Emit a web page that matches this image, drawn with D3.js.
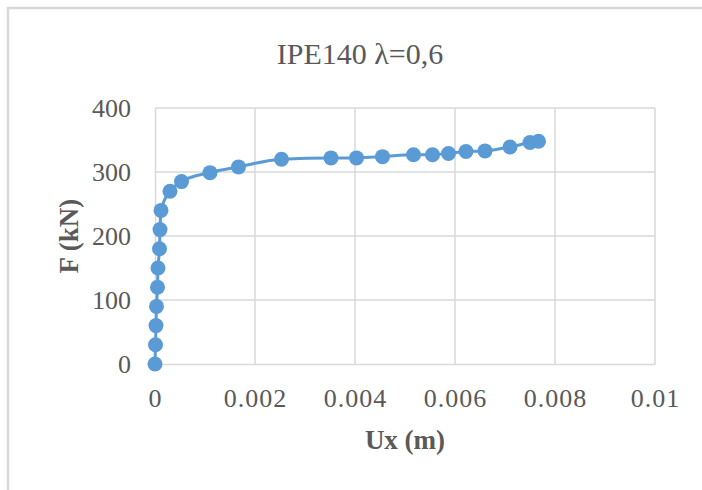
<!DOCTYPE html>
<html><head><meta charset="utf-8">
<script src="https://cdn.jsdelivr.net/npm/d3@7"></script>
<style>html,body{margin:0;padding:0;background:#fff;}</style>
</head><body>
<svg id="c" width="702" height="490"></svg>
<script>
const ux = [0, 0.00001, 0.00002, 0.00003, 0.00005, 0.00006, 0.00009, 0.0001, 0.00012, 0.0003, 0.00053, 0.0011, 0.00167, 0.00253, 0.00352, 0.00403, 0.00455, 0.00517, 0.00555, 0.00587, 0.00622, 0.0066, 0.0071, 0.0075, 0.00767];
const force = [0, 30, 60, 90, 120, 150, 180, 210, 240, 270, 285, 299, 308, 320, 322, 322, 324, 327, 327, 329, 332, 333, 339, 346, 348];
const xTicks = [0, 0.002, 0.004, 0.006, 0.008, 0.01];
const yTicks = [0, 100, 200, 300, 400];
const title = "IPE140 λ=0,6";
const xTitle = "Ux (m)";
const yTitle = "F (kN)";

const svg = d3.select("#c");
const font = "'Liberation Serif','Times New Roman',serif";
svg.append("path").attr("d","M8,490 V8 H702").attr("fill","none").attr("stroke","#d9d9d9").attr("stroke-width",2.5);

const x = d3.scaleLinear().domain([0,0.01]).range([155,655]);
const y = d3.scaleLinear().domain([0,400]).range([364,108]);

svg.append("g").selectAll("line").data(yTicks.slice(1)).join("line")
  .attr("x1",155).attr("x2",655).attr("y1",d=>y(d)).attr("y2",d=>y(d))
  .attr("stroke","#d9d9d9").attr("stroke-width",1.5);
svg.append("g").selectAll("line").data(xTicks.slice(1)).join("line")
  .attr("y1",108).attr("y2",364).attr("x1",d=>x(d)).attr("x2",d=>x(d))
  .attr("stroke","#d9d9d9").attr("stroke-width",1.5);

const xAxis = d3.axisBottom(x).tickValues(xTicks).tickSize(0).tickPadding(25).tickFormat(d=>d===0?"0":String(+d.toFixed(3)));
const gx = svg.append("g").attr("transform","translate(0,364)").call(xAxis);
gx.select(".domain").attr("stroke","#d9d9d9").attr("stroke-width",1.5);
gx.selectAll("text").attr("font-family",font).attr("font-size",26).attr("fill","#595959").attr("letter-spacing",1);

const yAxis = d3.axisLeft(y).tickValues(yTicks).tickSize(0).tickPadding(24);
const gy = svg.append("g").attr("transform","translate(155,0)").call(yAxis);
gy.select(".domain").attr("stroke","#d9d9d9").attr("stroke-width",1.5);
gy.selectAll("text").attr("font-family",font).attr("font-size",26).attr("fill","#595959");

const pts = ux.map((v,i)=>[v,force[i]]);
svg.append("path").datum(pts)
  .attr("d", d3.line().x(d=>x(d[0])).y(d=>y(d[1])).curve(d3.curveMonotoneX))
  .attr("fill","none").attr("stroke","#5b9bd5").attr("stroke-width",3);
svg.append("g").selectAll("circle").data(pts).join("circle")
  .attr("cx",d=>x(d[0])).attr("cy",d=>y(d[1])).attr("r",7.5).attr("fill","#5b9bd5");

svg.append("text").attr("x",360).attr("y",64).attr("text-anchor","middle")
  .attr("font-family",font).attr("font-size",30).attr("fill","#595959").text(title);
svg.append("text").attr("x",405).attr("y",449).attr("text-anchor","middle")
  .attr("font-family",font).attr("font-size",27).attr("font-weight","bold").attr("fill","#595959").text(xTitle);
svg.append("text").attr("transform","translate(78,236) rotate(-90)").attr("text-anchor","middle")
  .attr("font-family",font).attr("font-size",27).attr("font-weight","bold").attr("fill","#595959").text(yTitle);
</script>
</body></html>
